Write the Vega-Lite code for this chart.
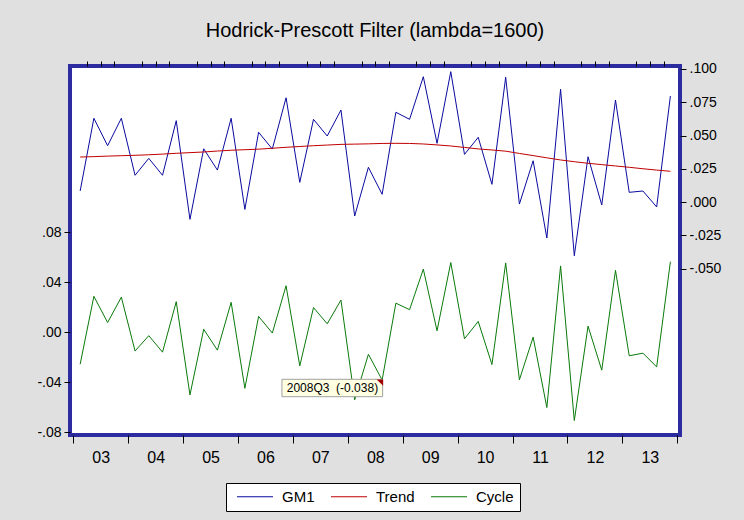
{
"$schema":"https://vega.github.io/schema/vega-lite/v6.json",
"width":610,"height":369,"autosize":"none",
"padding":{"left":70,"top":66,"right":64,"bottom":85},
"background":"#e0e0e0",
"title":{"text":"Hodrick-Prescott Filter (lambda=1600)","font":"Liberation Sans","fontSize":20,"fontWeight":"normal","color":"#000000","anchor":"middle","baseline":"alphabetic","offset":4},
"config":{"view":{"stroke":"#2c2ca0","strokeWidth":4,"fill":"#ffffff"},"axis":{"labelFont":"Liberation Sans","labelColor":"#000000","tickColor":"#000000","domain":false,"grid":false,"title":null}},
"datasets":{
"hp":[
{"t":2003.125,"GM1":0.0084,"Trend":0.0339,"Cycle":-0.0255},
{"t":2003.375,"GM1":0.063,"Trend":0.0342,"Cycle":0.0288},
{"t":2003.625,"GM1":0.0424,"Trend":0.0346,"Cycle":0.0078},
{"t":2003.875,"GM1":0.063,"Trend":0.0349,"Cycle":0.0281},
{"t":2004.125,"GM1":0.0202,"Trend":0.0352,"Cycle":-0.015},
{"t":2004.375,"GM1":0.0329,"Trend":0.0356,"Cycle":-0.0027},
{"t":2004.625,"GM1":0.0202,"Trend":0.0361,"Cycle":-0.0159},
{"t":2004.875,"GM1":0.0612,"Trend":0.0367,"Cycle":0.0245},
{"t":2005.125,"GM1":-0.0129,"Trend":0.0372,"Cycle":-0.0501},
{"t":2005.375,"GM1":0.0401,"Trend":0.0377,"Cycle":0.0024},
{"t":2005.625,"GM1":0.0241,"Trend":0.0384,"Cycle":-0.0143},
{"t":2005.875,"GM1":0.063,"Trend":0.039,"Cycle":0.024},
{"t":2006.125,"GM1":-0.0054,"Trend":0.0394,"Cycle":-0.0448},
{"t":2006.375,"GM1":0.0525,"Trend":0.0398,"Cycle":0.0127},
{"t":2006.625,"GM1":0.0399,"Trend":0.0405,"Cycle":-0.0006},
{"t":2006.875,"GM1":0.0784,"Trend":0.0412,"Cycle":0.0372},
{"t":2007.125,"GM1":0.0149,"Trend":0.0418,"Cycle":-0.0269},
{"t":2007.375,"GM1":0.0622,"Trend":0.0424,"Cycle":0.0198},
{"t":2007.625,"GM1":0.0497,"Trend":0.0429,"Cycle":0.0068},
{"t":2007.875,"GM1":0.0692,"Trend":0.0434,"Cycle":0.0258},
{"t":2008.125,"GM1":-0.0104,"Trend":0.0436,"Cycle":-0.054},
{"t":2008.375,"GM1":0.0262,"Trend":0.0438,"Cycle":-0.0176},
{"t":2008.625,"GM1":0.0059,"Trend":0.0441,"Cycle":-0.0382},
{"t":2008.875,"GM1":0.0675,"Trend":0.0442,"Cycle":0.0233},
{"t":2009.125,"GM1":0.0622,"Trend":0.0441,"Cycle":0.0181},
{"t":2009.375,"GM1":0.0942,"Trend":0.0437,"Cycle":0.0505},
{"t":2009.625,"GM1":0.0442,"Trend":0.043,"Cycle":0.0012},
{"t":2009.875,"GM1":0.098,"Trend":0.0422,"Cycle":0.0558},
{"t":2010.125,"GM1":0.0359,"Trend":0.0411,"Cycle":-0.0052},
{"t":2010.375,"GM1":0.0487,"Trend":0.04,"Cycle":0.0087},
{"t":2010.625,"GM1":0.0134,"Trend":0.0392,"Cycle":-0.0258},
{"t":2010.875,"GM1":0.0938,"Trend":0.0383,"Cycle":0.0555},
{"t":2011.125,"GM1":-0.0014,"Trend":0.0366,"Cycle":-0.038},
{"t":2011.375,"GM1":0.0311,"Trend":0.035,"Cycle":-0.0039},
{"t":2011.625,"GM1":-0.0269,"Trend":0.0333,"Cycle":-0.0602},
{"t":2011.875,"GM1":0.0848,"Trend":0.0317,"Cycle":0.0531},
{"t":2012.125,"GM1":-0.0402,"Trend":0.0304,"Cycle":-0.0706},
{"t":2012.375,"GM1":0.0341,"Trend":0.0292,"Cycle":0.0049},
{"t":2012.625,"GM1":-0.0021,"Trend":0.0282,"Cycle":-0.0303},
{"t":2012.875,"GM1":0.0767,"Trend":0.0272,"Cycle":0.0495},
{"t":2013.125,"GM1":0.0074,"Trend":0.0262,"Cycle":-0.0188},
{"t":2013.375,"GM1":0.0084,"Trend":0.0251,"Cycle":-0.0167},
{"t":2013.625,"GM1":-0.0036,"Trend":0.0241,"Cycle":-0.0277},
{"t":2013.875,"GM1":0.0797,"Trend":0.0232,"Cycle":0.0565}
],
"tip":[{"t":2008.625,"v":-0.038,"label":"2008Q3\u00a0\u00a0(-0.038)"}]
},
"layer":[
{"data":{"name":"hp"},"transform":[{"fold":["GM1","Trend"],"as":["series","value"]}],
 "mark":{"type":"line","strokeWidth":1},
 "encoding":{
  "x":{"field":"t","type":"quantitative","scale":{"domain":[2002.94,2014.05],"nice":false,"zero":false},
       "axis":{"values":[2003,2004,2005,2006,2007,2008,2009,2010,2011,2012,2013,2014],"tickSize":8,"labelFontSize":16,"labelOffset":27.45,"labelPadding":6,"labelFlush":false,"labelOverlap":false,"labelBound":false,"labelExpr":"datum.value >= 2014 ? '' : slice(toString(datum.value), 2)"}},
  "y":{"field":"value","type":"quantitative","scale":{"domain":[-0.1748,0.10225],"nice":false,"zero":false},
       "axis":{"orient":"right","values":[-0.05,-0.025,0,0.025,0.05,0.075,0.1],"tickSize":6,"labelFontSize":14,"labelPadding":3,"labelExpr":"(datum.value < 0 ? '-' : '') + replace(format(abs(datum.value), '.3f'), '0.', '.')"}},
  "color":{"field":"series","type":"nominal","sort":["GM1","Trend","Cycle"],
       "scale":{"domain":["GM1","Trend","Cycle"],"range":["#0a0aa0","#c00000","#0a7a0a"]},
       "legend":{"orient":"none","legendX":156,"legendY":417,"direction":"horizontal","title":null,"fillColor":"#ffffff","strokeColor":"#000000","padding":6,"symbolType":"M-0.4167,0H5.5833","symbolSize":144,"symbolStrokeWidth":1,"labelFontSize":15,"labelFont":"Liberation Sans","labelColor":"#000000","labelOffset":35,"columnPadding":11}}
 }},
{"data":{"name":"hp"},"transform":[{"fold":["Cycle"],"as":["series","value"]}],
 "mark":{"type":"line","strokeWidth":1},
 "encoding":{
  "x":{"field":"t","type":"quantitative","scale":{"domain":[2002.94,2014.05],"nice":false,"zero":false},
       "axis":{"values":[2003.25,2003.5,2003.75,2004.25,2004.5,2004.75,2005.25,2005.5,2005.75,2006.25,2006.5,2006.75,2007.25,2007.5,2007.75,2008.25,2008.5,2008.75,2009.25,2009.5,2009.75,2010.25,2010.5,2010.75,2011.25,2011.5,2011.75,2012.25,2012.5,2012.75,2013.25,2013.5,2013.75],"tickSize":5,"labels":false}},
  "y":{"field":"value","type":"quantitative","scale":{"domain":[-0.08216,0.213],"nice":false,"zero":false},
       "axis":{"orient":"left","values":[-0.08,-0.04,0,0.04,0.08],"tickSize":6,"labelFontSize":14,"labelPadding":3,"labelExpr":"(datum.value < 0 ? '-' : '') + replace(format(abs(datum.value), '.2f'), '0.', '.')"}},
  "color":{"field":"series","type":"nominal"}
 }},
{"data":{"name":"tip"},
 "mark":{"type":"point","shape":"M-2.004,-0.01L0.01,-0.01L0.01,0.338L-2.004,0.338Z","size":10000,"filled":true,"fill":"#ffffe1","stroke":"#a0a0a0","strokeWidth":1,"opacity":1},
 "encoding":{
  "x":{"field":"t","type":"quantitative","scale":{"domain":[2002.94,2014.05],"nice":false,"zero":false},"axis":null},
  "y":{"field":"v","type":"quantitative","scale":{"domain":[-0.08216,0.213],"nice":false,"zero":false},"axis":null}
 }},
{"data":{"name":"tip"},
 "mark":{"type":"point","shape":"M-1.1,-0.06L0.2,-0.06L0.2,1.2Z","size":100,"filled":true,"fill":"#a00000","strokeWidth":0,"opacity":1},
 "encoding":{
  "x":{"field":"t","type":"quantitative","scale":{"domain":[2002.94,2014.05],"nice":false,"zero":false},"axis":null},
  "y":{"field":"v","type":"quantitative","scale":{"domain":[-0.08216,0.213],"nice":false,"zero":false},"axis":null}
 }},
{"data":{"name":"tip"},
 "mark":{"type":"text","align":"right","baseline":"middle","dx":-4,"dy":8.5,"font":"Liberation Sans","fontSize":12,"color":"#000000"},
 "encoding":{
  "x":{"field":"t","type":"quantitative","scale":{"domain":[2002.94,2014.05],"nice":false,"zero":false},"axis":null},
  "y":{"field":"v","type":"quantitative","scale":{"domain":[-0.08216,0.213],"nice":false,"zero":false},"axis":null},
  "text":{"field":"label"}
 }}
],
"resolve":{"scale":{"y":"independent"},"axis":{"x":"independent"}}
}
